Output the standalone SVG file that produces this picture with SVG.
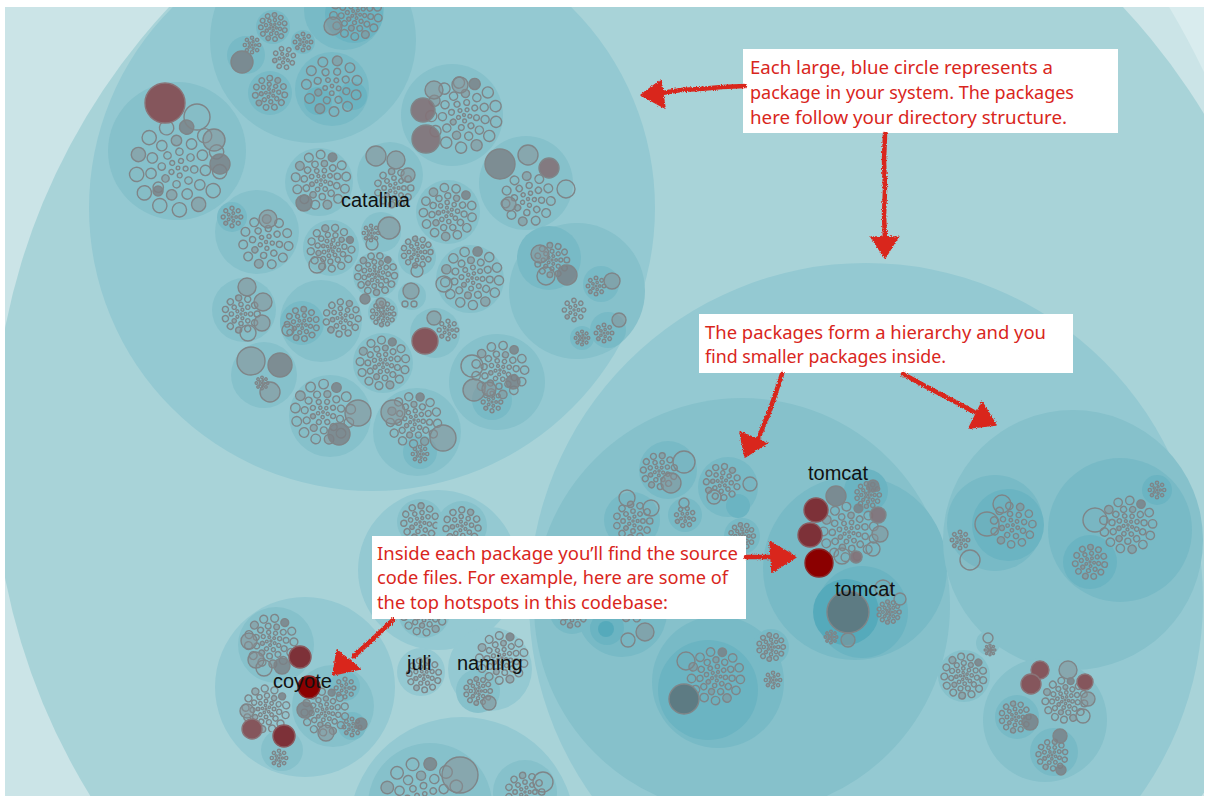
<svg xmlns="http://www.w3.org/2000/svg" width="1207" height="796" viewBox="0 0 1207 796">
<defs>
<style>
.l1{fill:#a8d3d8}.l2{fill:#94c9d2}.l3{fill:#86c1cb}.l4{fill:#78bac6}.l5{fill:#6bb4c2}.l6{fill:#55aabb}
.f,.g,.h,.m,.r1,.r2,.r3,.gd{stroke:#7f8588;stroke-width:1.4;vector-effect:non-scaling-stroke}
.f{fill:#8a8a8a;fill-opacity:.07}
.g{fill:#878e91;fill-opacity:.5}
.h{fill:#7b8084;fill-opacity:.8}
.m{fill:#837278;fill-opacity:.9}
.gd{fill:#5d7b83}
.r1{fill:#8b0000;stroke:#8a2a2a}
.r2{fill:#7d3138;stroke:#8a5a5e}
.r3{fill:#85565c;stroke:#8a7478}
.lbl{font-family:"Liberation Sans",Arial,Helvetica,sans-serif;font-size:20px;fill:#111}
.note{font-family:"Noto Sans","Liberation Sans",sans-serif;font-size:17.5px;fill:#d9261c}
.box{fill:#ffffff}
.arr{stroke:#d9261c;stroke-width:4.5;fill:none;stroke-linecap:round;stroke-linejoin:round}
.ah{fill:#d9261c;stroke:#d9261c;stroke-width:1.5;stroke-linejoin:round}
</style>
<filter id="rough" filterUnits="userSpaceOnUse" x="0" y="0" width="1207" height="796">
<feTurbulence type="fractalNoise" baseFrequency="0.8" numOctaves="2" seed="4" result="n"/>
<feDisplacementMap in="SourceGraphic" in2="n" scale="3.5" xChannelSelector="R" yChannelSelector="G"/>
</filter>
<clipPath id="view"><rect x="5" y="7" width="1199" height="789"/></clipPath>
<circle id="a" cx="7.5" r="2.4" class="f"/>
<circle id="b" cx="16" r="3.6" class="f"/>
<circle id="bg" cx="16" r="3.6" class="g"/>
<circle id="c" cx="27" r="5.1" class="f"/>
<circle id="cg" cx="27" r="5.1" class="g"/>
<circle id="d" cx="41" r="7" class="f"/>
<circle id="dg" cx="41" r="7" class="g"/>
<circle id="dh" cx="41" r="7" class="h"/>
<g id="ra"><use href="#a"/><use href="#a" transform="rotate(72)"/><use href="#a" transform="rotate(144)"/><use href="#a" transform="rotate(216)"/><use href="#a" transform="rotate(288)"/></g>
<g id="rb"><use href="#b"/><use href="#b" transform="rotate(45)"/><use href="#b" transform="rotate(90)"/><use href="#bg" transform="rotate(135)"/><use href="#b" transform="rotate(180)"/><use href="#b" transform="rotate(225)"/><use href="#b" transform="rotate(270)"/><use href="#b" transform="rotate(315)"/></g>
<g id="rc"><use href="#c"/><use href="#c" transform="rotate(32.7)"/><use href="#c" transform="rotate(65.5)"/><use href="#cg" transform="rotate(98.2)"/><use href="#c" transform="rotate(130.9)"/><use href="#c" transform="rotate(163.6)"/><use href="#c" transform="rotate(196.4)"/><use href="#c" transform="rotate(229.1)"/><use href="#cg" transform="rotate(261.8)"/><use href="#c" transform="rotate(294.5)"/><use href="#c" transform="rotate(327.3)"/></g>
<g id="rd"><use href="#d"/><use href="#d" transform="rotate(27.7)"/><use href="#dg" transform="rotate(55.4)"/><use href="#d" transform="rotate(83.1)"/><use href="#d" transform="rotate(110.8)"/><use href="#d" transform="rotate(138.5)"/><use href="#d" transform="rotate(166.2)"/><use href="#dg" transform="rotate(193.8)"/><use href="#d" transform="rotate(221.5)"/><use href="#d" transform="rotate(249.2)"/><use href="#dh" transform="rotate(276.9)"/><use href="#d" transform="rotate(304.6)"/><use href="#d" transform="rotate(332.3)"/></g>
<g id="T"><circle r="1.8" class="f"/><use href="#ra"/><use href="#rb"/></g>
<g id="M"><use href="#T"/><use href="#rc"/></g>
<g id="K"><use href="#M"/><use href="#rd"/></g>
</defs>
<rect width="1207" height="796" fill="#ffffff"/>
<g clip-path="url(#view)">
<rect x="5" y="7" width="1199" height="789" fill="#d9ecee"/>
<circle cx="440" cy="440" r="848" fill="#cbe4e7"/>
<circle cx="646" cy="453" r="653" class="l1"/>

<g id="catalina">
<circle cx="372" cy="208" r="283" class="l2"/>
<g id="cat-p1">
<circle cx="313" cy="40" r="103" class="l3"/>
<circle cx="344" cy="10" r="40" class="l4"/><circle cx="354" cy="14" r="29" class="l5"/>
<use href="#K" transform="translate(356 14) scale(.55) rotate(10)"/>
<circle cx="333" cy="26" r="9" class="g"/>
<circle cx="332" cy="89" r="37" class="l4"/><circle cx="318" cy="101" r="14" class="l5"/><circle cx="353" cy="96" r="14" class="l5"/>
<use href="#M" transform="translate(332 86) scale(.95) rotate(20)"/>
<circle cx="270" cy="93" r="22" class="l4"/><use href="#M" transform="translate(270 93) scale(.55) rotate(40)"/>
<circle cx="246" cy="55" r="19" class="l4"/><circle cx="242" cy="62" r="11" class="h"/><use href="#T" transform="translate(252 45) scale(.45)"/>
<circle cx="273" cy="27" r="17" class="l4"/><use href="#M" transform="translate(273 27) scale(.45) rotate(15)"/>
<use href="#T" transform="translate(284 58) scale(.6) rotate(30)"/>
<circle cx="303" cy="42" r="12" class="l4"/><use href="#T" transform="translate(303 42) scale(.5)"/>
</g>
<g id="cat-p2">
<circle cx="177" cy="151" r="69" class="l3"/>
<use href="#K" transform="translate(178 168) scale(1.02) rotate(5)"/>
<circle cx="165" cy="103" r="20" class="r3"/>
<circle cx="197" cy="117" r="13" class="f"/>
<circle cx="214" cy="140" r="11" class="g"/>
<circle cx="220" cy="164" r="10" class="h"/>
<circle cx="158" cy="191" r="5" class="h"/>
</g>
<g id="cat-p3">
<circle cx="452" cy="115" r="51" class="l3"/>
<use href="#K" transform="translate(464 115) scale(.8) rotate(12)"/>
<circle cx="423" cy="110" r="12" class="m"/>
<circle cx="426" cy="139" r="14" class="m"/>
<circle cx="434" cy="90" r="9" class="g"/><circle cx="460" cy="85" r="8" class="g"/>
</g>
<g id="cat-p4">
<circle cx="526" cy="183" r="47" class="l3"/>
<use href="#M" transform="translate(528 199) scale(.85) rotate(5)"/>
<circle cx="500" cy="164" r="15" class="h"/>
<circle cx="528" cy="155" r="10" class="g"/>
<circle cx="549" cy="168" r="10" class="m"/>
<circle cx="566" cy="189" r="9" class="f"/>
<circle cx="509" cy="204" r="7" class="g"/>
</g>
<g id="cat-p5"><circle cx="319" cy="182" r="34" class="l3"/><use href="#K" transform="translate(321 180) scale(.62) rotate(20)"/><circle cx="304" cy="203" r="8" class="h"/></g>
<g id="cat-p6"><circle cx="390" cy="175" r="33" class="l3"/><use href="#M" transform="translate(394 188) scale(.62)"/><circle cx="376" cy="156" r="10" class="g"/><circle cx="396" cy="160" r="9" class="g"/><circle cx="408" cy="175" r="7" class="g"/></g>
<g id="cat-p7"><circle cx="448" cy="212" r="32" class="l3"/><use href="#K" transform="translate(448 212) scale(.6) rotate(40)"/></g>
<g id="cat-p8"><circle cx="257" cy="232" r="42" class="l3"/><circle cx="232" cy="217" r="15" class="l4"/><use href="#T" transform="translate(232 217) scale(.55)"/><use href="#M" transform="translate(266 242) scale(.85) rotate(10)"/><circle cx="268" cy="219" r="9" class="g"/></g>
<g id="cat-p9"><circle cx="331" cy="248" r="28" class="l3"/><use href="#K" transform="translate(331 248) scale(.5) rotate(60)"/><circle cx="317" cy="265" r="8" class="f"/></g>
<g id="cat-p10"><circle cx="381" cy="232" r="20" class="l3"/><circle cx="389" cy="228" r="11" class="g"/><use href="#T" transform="translate(371 233) scale(.45)"/><circle cx="372" cy="244" r="6" class="f"/></g>
<g id="cat-p11"><circle cx="376" cy="275" r="23" class="l3"/><use href="#K" transform="translate(376 274) scale(.45) rotate(33)"/><circle cx="365" cy="299" r="5" class="h"/></g>
<g id="cat-p12"><circle cx="417" cy="257" r="19" class="l3"/><use href="#M" transform="translate(417 252) scale(.5)"/><circle cx="417" cy="271" r="6" class="f"/></g>
<g id="cat-p13"><circle cx="412" cy="296" r="14" class="l3"/><circle cx="411" cy="291" r="8" class="g"/><circle cx="405" cy="304" r="3" class="f"/><circle cx="414" cy="304" r="3" class="f"/></g>
<g id="cat-p14"><circle cx="383" cy="312" r="15" class="l3"/><use href="#M" transform="translate(383 314) scale(.4)"/><circle cx="381" cy="303" r="5" class="g"/></g>
<g id="cat-p15"><circle cx="470" cy="279" r="34" class="l3"/><use href="#K" transform="translate(472 278) scale(.66) rotate(5)"/><circle cx="444" cy="284" r="8" class="f"/></g>
<g id="cat-p16"><circle cx="244" cy="310" r="32" class="l3"/><use href="#M" transform="translate(241 314) scale(.6)"/><circle cx="247" cy="287" r="9" class="g"/><circle cx="263" cy="302" r="9" class="g"/><circle cx="262" cy="323" r="8" class="g"/><circle cx="248" cy="333" r="8" class="f"/></g>
<g id="cat-p17"><circle cx="321" cy="321" r="41" class="l3"/><circle cx="302" cy="323" r="22" class="l4"/><use href="#M" transform="translate(302 324) scale(.55) rotate(15)"/><use href="#M" transform="translate(342 318) scale(.6) rotate(35)"/><circle cx="288" cy="330" r="6" class="f"/></g>
<g id="cat-p18"><circle cx="383" cy="363" r="30" class="l3"/><use href="#K" transform="translate(383 363) scale(.56) rotate(17)"/></g>
<g id="cat-p19"><circle cx="435" cy="333" r="25" class="l3"/><circle cx="425" cy="341" r="13" class="r3"/><circle cx="434" cy="318" r="7" class="g"/><use href="#T" transform="translate(448 330) scale(.55)"/></g>
<g id="cat-p20"><circle cx="264" cy="375" r="33" class="l3"/><circle cx="251" cy="361" r="14" class="g"/><circle cx="280" cy="365" r="12" class="h"/><circle cx="270" cy="392" r="10" class="g"/><use href="#T" transform="translate(262 383) scale(.35)"/></g>
<g id="cat-p21"><circle cx="330" cy="416" r="41" class="l3"/><use href="#K" transform="translate(323 412) scale(.68) rotate(22)"/><circle cx="358" cy="413" r="13" class="g"/><circle cx="339" cy="434" r="11" class="h"/></g>
<g id="cat-p22"><circle cx="417" cy="432" r="44" class="l3"/><circle cx="420" cy="452" r="17" class="l4"/><use href="#K" transform="translate(414 420) scale(.58) rotate(8)"/><circle cx="393" cy="412" r="12" class="g"/><circle cx="443" cy="438" r="13" class="g"/><use href="#T" transform="translate(420 454) scale(.45)"/></g>
<g id="cat-p23"><circle cx="497" cy="382" r="48" class="l3"/><circle cx="492" cy="400" r="20" class="l4"/><use href="#K" transform="translate(500 370) scale(.6) rotate(28)"/><circle cx="472" cy="366" r="11" class="f"/><circle cx="474" cy="390" r="11" class="g"/><circle cx="513" cy="382" r="7" class="h"/><use href="#T" transform="translate(492 402) scale(.55)"/><circle cx="489" cy="389" r="7" class="g"/></g>
<g id="cat-p24"><circle cx="577" cy="291" r="68" class="l3"/>
<circle cx="549" cy="258" r="32" class="l4"/><use href="#M" transform="translate(552 260) scale(.55)"/><circle cx="540" cy="254" r="9" class="g"/><circle cx="567" cy="275" r="10" class="h"/><circle cx="546" cy="276" r="9" class="f"/>
<circle cx="601" cy="284" r="18" class="l4"/><use href="#T" transform="translate(596 286) scale(.5)"/><circle cx="612" cy="281" r="8" class="g"/>
<circle cx="608" cy="330" r="18" class="l4"/><use href="#T" transform="translate(604 333) scale(.5)"/><circle cx="619" cy="320" r="7" class="g"/>
<circle cx="582" cy="338" r="12" class="l4"/><use href="#T" transform="translate(582 338) scale(.4)"/>
<use href="#T" transform="translate(574 310) scale(.6)"/>
</g>
</g>

<g id="pkg-bottom-mid">
<circle cx="438" cy="570" r="80" class="l2"/>
<circle cx="420" cy="522" r="23" class="l3"/><use href="#M" transform="translate(420 522) scale(.6) rotate(12)"/>
<circle cx="462" cy="526" r="25" class="l3"/><use href="#M" transform="translate(462 526) scale(.6) rotate(40)"/>
<circle cx="424" cy="612" r="26" class="l3"/><use href="#K" transform="translate(424 612) scale(.5)"/>
</g>
<g id="pkg-juli"><circle cx="421" cy="672" r="24" class="l2"/><use href="#M" transform="translate(424 675) scale(.55) rotate(22)"/></g>
<g id="pkg-naming"><circle cx="490" cy="669" r="42" class="l2"/><circle cx="478" cy="691" r="22" class="l3"/><use href="#M" transform="translate(478 691) scale(.45)"/><use href="#K" transform="translate(502 658) scale(.55) rotate(14)"/><circle cx="489" cy="703" r="7" class="g"/></g>
<g id="pkg-bottom">
<circle cx="462" cy="830" r="113" class="l2"/>
<circle cx="430" cy="805" r="62" class="l3"/><use href="#K" transform="translate(422 800) scale(.9) rotate(6)"/>
<circle cx="460" cy="775" r="18" class="g"/>
<circle cx="525" cy="792" r="32" class="l3"/><use href="#M" transform="translate(525 792) scale(.62)"/><circle cx="543" cy="782" r="10" class="f"/>
</g>
<g id="coyote">
<circle cx="305" cy="687" r="90" class="l2"/>
<circle cx="276" cy="645" r="38" class="l3"/><use href="#K" transform="translate(271 641) scale(.56) rotate(30)"/>
<circle cx="249" cy="641" r="8" class="g"/><circle cx="256" cy="660" r="8" class="g"/><circle cx="264" cy="668" r="8" class="f"/><circle cx="282" cy="666" r="8" class="h"/>
<circle cx="300" cy="657" r="11" class="r2"/>
<circle cx="333" cy="706" r="41" class="l3"/><circle cx="345" cy="686" r="15" class="l4"/><circle cx="352" cy="726" r="14" class="l4"/>
<use href="#K" transform="translate(325 712) scale(.5) rotate(12)"/>
<use href="#T" transform="translate(345 688) scale(.55)"/><use href="#T" transform="translate(352 727) scale(.5)"/>
<circle cx="305" cy="710" r="8" class="h"/><circle cx="326" cy="733" r="8" class="g"/><circle cx="361" cy="724" r="6" class="h"/>
<circle cx="309" cy="687" r="11" class="r1"/>
<use href="#K" transform="translate(266 709) scale(.5) rotate(45)"/>
<circle cx="247" cy="711" r="7" class="g"/>
<circle cx="252" cy="729" r="10" class="r3"/>
<circle cx="282" cy="750" r="21" class="l3"/><use href="#T" transform="translate(279 758) scale(.45)"/>
<circle cx="284" cy="736" r="11" class="r2"/>
</g>

<g id="pkg-right">
<circle cx="866" cy="600" r="337" class="l2"/>
</g>
<g id="tomcat-outer">
<circle cx="742" cy="606" r="208" class="l3"/>
<circle cx="668" cy="470" r="29" class="l4"/><use href="#M" transform="translate(659 471) scale(.58) rotate(20)"/><circle cx="684" cy="462" r="11" class="f"/><circle cx="671" cy="483" r="10" class="g"/>
<circle cx="728" cy="487" r="30" class="l4"/><circle cx="738" cy="506" r="12" class="l5"/><use href="#M" transform="translate(722 482) scale(.58) rotate(50)"/><circle cx="750" cy="484" r="7" class="f"/><circle cx="714" cy="497" r="7" class="f"/>
<circle cx="632" cy="520" r="28" class="l4"/><use href="#M" transform="translate(633 521) scale(.62)"/><circle cx="627" cy="498" r="8" class="f"/><circle cx="651" cy="508" r="8" class="f"/>
<circle cx="685" cy="515" r="17" class="l4"/><use href="#T" transform="translate(685 517) scale(.55) rotate(15)"/><circle cx="684" cy="503" r="5" class="f"/>
<circle cx="742" cy="536" r="18" class="l4"/><use href="#M" transform="translate(742 536) scale(.42)"/>
<circle cx="622" cy="612" r="45" class="l4"/><circle cx="607" cy="628" r="17" class="l5"/><circle cx="606" cy="629" r="8" class="l6"/><use href="#M" transform="translate(632 600) scale(.7) rotate(10)"/><circle cx="645" cy="632" r="9" class="g"/><circle cx="628" cy="640" r="7" class="f"/>
<circle cx="572" cy="612" r="22" class="l4"/><use href="#M" transform="translate(572 612) scale(.5)"/>
<circle cx="718" cy="682" r="66" class="l4"/><circle cx="708" cy="690" r="50" class="l5"/>
<use href="#K" transform="translate(716 676) scale(.6) rotate(8)"/>
<circle cx="684" cy="699" r="15" class="gd"/><circle cx="686" cy="661" r="9" class="f"/>
<circle cx="771" cy="647" r="18" class="l4"/><use href="#M" transform="translate(771 647) scale(.45)"/>
<use href="#T" transform="translate(773 680) scale(.45)"/>
</g>
<g id="tomcat">
<circle cx="855" cy="568" r="92" class="l4"/>
<circle cx="866" cy="491" r="22" class="l5"/><use href="#M" transform="translate(868 495) scale(.42)"/><circle cx="873" cy="486" r="6" class="h"/>
<use href="#K" transform="translate(849 532) scale(.62) rotate(15)"/>
<circle cx="836" cy="496" r="10" class="h"/>
<circle cx="816" cy="510" r="12" class="r2"/>
<circle cx="810" cy="535" r="12" class="r2"/>
<circle cx="819" cy="563" r="14" class="r1"/>
<circle cx="878" cy="515" r="8" class="m"/><circle cx="880" cy="534" r="8" class="g"/><circle cx="873" cy="549" r="7" class="f"/><circle cx="856" cy="557" r="6" class="m"/><circle cx="842" cy="556" r="8" class="f"/>
<circle cx="862" cy="612" r="46" class="l5"/><circle cx="846" cy="612" r="33" class="l6"/>
<circle cx="848" cy="612" r="21" class="gd"/>
<circle cx="848" cy="640" r="7" class="g"/><use href="#T" transform="translate(831 637) scale(.35)"/>
<use href="#M" transform="translate(889 612) scale(.38)"/><circle cx="883" cy="588" r="8" class="f"/><circle cx="900" cy="599" r="6" class="f"/>
</g>
<g id="pkg-right-inner">
<circle cx="1073" cy="540" r="130" class="l3"/>
<circle cx="995" cy="523" r="48" class="l4"/><circle cx="1008" cy="525" r="36" class="l5"/>
<use href="#M" transform="translate(1013 525) scale(.72) rotate(30)"/>
<circle cx="987" cy="524" r="12" class="f"/><circle cx="1002" cy="504" r="9" class="f"/>
<use href="#T" transform="translate(960 540) scale(.5)"/>
<circle cx="970" cy="560" r="10" class="f"/>
<circle cx="1120" cy="530" r="72" class="l4"/><circle cx="1090" cy="562" r="27" class="l5"/>
<use href="#M" transform="translate(1090 562) scale(.55) rotate(10)"/>
<use href="#K" transform="translate(1128 525) scale(.6) rotate(25)"/>
<circle cx="1095" cy="520" r="12" class="f"/>
<circle cx="1157" cy="490" r="15" class="l5"/><use href="#T" transform="translate(1157 490) scale(.45)"/>
</g>
<g id="pkg-br">
<circle cx="1045" cy="720" r="62" class="l3"/>
<circle cx="1017" cy="717" r="22" class="l4"/><use href="#M" transform="translate(1015 717) scale(.5)"/><circle cx="1030" cy="722" r="8" class="h"/>
<circle cx="1054" cy="752" r="24" class="l4"/><use href="#M" transform="translate(1052 755) scale(.5) rotate(20)"/><circle cx="1060" cy="736" r="7" class="h"/><circle cx="1061" cy="770" r="5" class="h"/>
<use href="#K" transform="translate(1065 700) scale(.48) rotate(10)"/>
<circle cx="1040" cy="670" r="9" class="r3"/><circle cx="1068" cy="670" r="9" class="g"/><circle cx="1085" cy="682" r="8" class="r3"/><circle cx="1031" cy="684" r="10" class="r3"/><circle cx="1088" cy="699" r="7" class="g"/><circle cx="1083" cy="716" r="7" class="f"/>
<circle cx="964" cy="676" r="26" class="l3"/><use href="#K" transform="translate(964 676) scale(.48) rotate(40)"/>
<circle cx="988" cy="643" r="12" class="l3"/><circle cx="988" cy="638" r="5" class="f"/><use href="#T" transform="translate(990 650) scale(.3)"/>
</g>
</g>

<g id="labels">
<text class="lbl" x="341" y="207">catalina</text>
<text class="lbl" x="808" y="480">tomcat</text>
<text class="lbl" x="835" y="596">tomcat</text>
<text class="lbl" x="273" y="688">coyote</text>
<text class="lbl" x="407" y="670">juli</text>
<text class="lbl" x="457" y="670">naming</text>
</g>

<g id="note-packages">
<rect class="box" x="743" y="49" width="375" height="84"/>
<text class="note" x="750" y="74" textLength="303" lengthAdjust="spacingAndGlyphs">Each large, blue circle represents a</text>
<text class="note" x="750" y="99" textLength="324" lengthAdjust="spacingAndGlyphs">package in your system. The packages</text>
<text class="note" x="750" y="124" textLength="317" lengthAdjust="spacingAndGlyphs">here follow your directory structure.</text>
</g>
<g id="note-hierarchy">
<rect class="box" x="699" y="314" width="374" height="59"/>
<text class="note" x="705" y="339" textLength="341" lengthAdjust="spacingAndGlyphs">The packages form a hierarchy and you</text>
<text class="note" x="705" y="363" textLength="241" lengthAdjust="spacingAndGlyphs">find smaller packages inside.</text>
</g>
<g id="note-files">
<rect class="box" x="372" y="536" width="374" height="83"/>
<text class="note" x="377" y="560" textLength="361" lengthAdjust="spacingAndGlyphs">Inside each package you’ll find the source</text>
<text class="note" x="377" y="584" textLength="351" lengthAdjust="spacingAndGlyphs">code files. For example, here are some of</text>
<text class="note" x="377" y="609" textLength="291" lengthAdjust="spacingAndGlyphs">the top hotspots in this codebase:</text>
</g>

<g id="connectors" filter="url(#rough)">
<path class="arr" d="M745 86 L722 87 L700 89 L681 90 L662 93"/>
<polygon class="ah" points="641,95 661,80 665,108"/>
<path class="arr" d="M885 134 L884 160 L885 190 L884 215 L885 240"/>
<polygon class="ah" points="871,237 898,237 885,258"/>
<path class="arr" d="M782 374 L775 395 L768 415 L759 437"/>
<polygon class="ah" points="740,432 767,443 745,457"/>
<path class="arr" d="M903 374 L925 386 L950 399 L974 412"/>
<polygon class="ah" points="969,428 982,402 996,425"/>
<path class="arr" d="M746 557 L760 557 L773 557"/>
<polygon class="ah" points="770,542 772,572 796,557"/>
<path class="arr" d="M393 620 L375 637 L354 656"/>
<polygon class="ah" points="337,650 360,669 333,675"/>
</g>
</svg>
